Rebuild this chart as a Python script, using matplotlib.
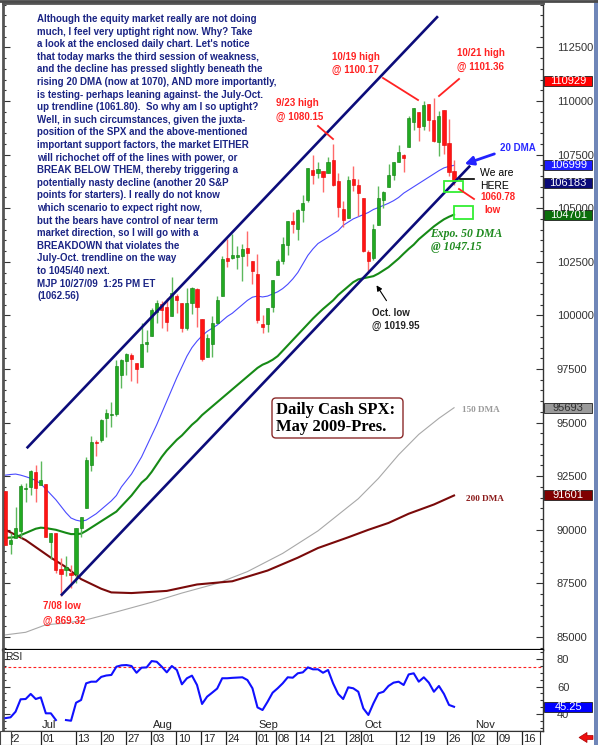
import numpy as np
import pandas as pd
import matplotlib
matplotlib.use("Agg")
import matplotlib.pyplot as plt
from matplotlib.patches import Rectangle, FancyBboxPatch, Polygon
from matplotlib.transforms import blended_transform_factory
from matplotlib.ticker import MultipleLocator, FuncFormatter, FixedLocator

plt.rcParams["font.family"] = ["Liberation Sans", "DejaVu Sans"]

# ---------------- data ----------------
dates = pd.bdate_range("2009-06-22", "2009-10-27", freq="C",
                       holidays=["2009-07-03", "2009-09-07"])

spx_open = [918.13, 893.46, 896.31, 899.45, 918.84, 919.86, 927.15, 920.82, 921.24, 894.27,
            898.60, 881.90, 881.28, 880.03, 879.57, 900.77, 910.15, 930.17, 940.56, 942.07,
            951.97, 953.40, 954.07, 972.16, 978.63, 981.48, 977.66, 976.01, 986.80, 990.22,
            1001.41, 1005.41, 1004.06, 999.83, 1008.89, 1005.77, 994.00, 1005.86, 1012.23, 998.18,
            980.62, 986.88, 996.41, 1009.06, 1026.59, 1026.63, 1027.35, 1027.81, 1031.62, 1025.21,
            1019.52, 996.07, 996.12, 1003.84, 1018.67, 1025.36, 1032.99, 1043.92, 1040.15, 1049.03,
            1053.99, 1067.87, 1066.60, 1067.14, 1066.35, 1072.69, 1062.56, 1049.48, 1045.38, 1063.69,
            1061.02, 1054.91, 1029.71, 1026.87, 1042.02, 1053.65, 1060.03, 1065.28, 1071.63, 1074.96,
            1078.68, 1090.36, 1094.67, 1088.22, 1098.64, 1091.06, 1080.87, 1095.62, 1080.36, 1067.54]
spx_high = [918.13, 898.69, 910.85, 921.42, 922.00, 927.99, 930.01, 931.92, 921.24, 898.72,
            898.60, 886.80, 887.86, 883.57, 901.05, 905.84, 933.95, 943.96, 941.89, 951.62,
            956.53, 959.83, 979.42, 979.79, 982.49, 982.35, 977.76, 996.68, 993.18, 1003.61,
            1007.12, 1006.64, 1008.00, 1018.00, 1010.12, 1005.77, 1012.78, 1013.14, 1012.60, 998.18,
            991.20, 999.61, 1008.92, 1027.59, 1035.82, 1037.75, 1032.47, 1033.33, 1039.47, 1025.21,
            1028.45, 1000.34, 1003.43, 1016.48, 1026.07, 1036.34, 1044.14, 1048.18, 1049.74, 1056.04,
            1068.76, 1074.77, 1071.52, 1067.28, 1073.81, 1080.15, 1066.29, 1053.47, 1065.13, 1069.62,
            1063.40, 1054.91, 1030.60, 1042.58, 1060.55, 1058.02, 1070.67, 1071.51, 1079.46, 1075.30,
            1093.17, 1096.56, 1094.67, 1100.17, 1098.64, 1101.36, 1095.21, 1095.83, 1091.75, 1072.48]
spx_low = [893.04, 888.86, 896.31, 896.27, 913.03, 916.18, 912.86, 920.82, 896.42, 886.36,
           879.93, 869.32, 878.45, 872.81, 875.32, 896.50, 910.15, 927.45, 934.65, 940.99,
           943.22, 947.75, 953.27, 965.95, 972.29, 969.35, 968.65, 976.01, 982.85, 990.22,
           996.68, 994.31, 992.49, 999.83, 1000.99, 992.40, 993.36, 1000.82, 994.60, 978.51,
           980.62, 980.62, 996.39, 1009.06, 1022.48, 1026.21, 1021.57, 1016.20, 1023.13, 1014.62,
           996.28, 991.97, 992.25, 1001.65, 1018.67, 1023.97, 1028.04, 1038.40, 1035.00, 1043.42,
           1052.87, 1061.20, 1064.27, 1057.46, 1066.35, 1060.39, 1045.85, 1041.17, 1045.38, 1057.83,
           1046.47, 1029.45, 1019.95, 1025.92, 1042.02, 1050.10, 1060.03, 1063.00, 1071.63, 1066.71,
           1078.68, 1086.41, 1081.53, 1086.48, 1086.16, 1080.77, 1074.31, 1075.49, 1065.23, 1060.78]
spx_close = [893.04, 895.10, 900.94, 920.26, 918.90, 927.23, 919.32, 923.33, 896.42, 898.72,
             881.03, 879.56, 882.68, 879.13, 901.05, 905.84, 932.68, 940.74, 940.38, 951.13,
             954.58, 954.07, 976.29, 979.26, 982.18, 979.62, 975.15, 986.75, 987.48, 1002.63,
             1005.65, 1002.72, 997.08, 1010.48, 1007.10, 994.35, 1005.81, 1012.73, 1004.09, 979.73,
             989.67, 996.46, 1007.37, 1026.13, 1025.57, 1028.00, 1028.12, 1030.98, 1028.93, 1020.62,
             998.04, 994.75, 1003.24, 1016.40, 1025.39, 1033.37, 1044.14, 1042.73, 1049.34, 1052.63,
             1068.76, 1065.49, 1068.30, 1064.66, 1071.66, 1060.87, 1050.78, 1044.38, 1062.98, 1060.61,
             1057.08, 1029.85, 1025.21, 1040.46, 1054.72, 1057.58, 1065.48, 1071.49, 1076.19, 1073.19,
             1092.02, 1096.56, 1087.68, 1097.91, 1091.06, 1081.40, 1092.91, 1079.60, 1066.95, 1062.56]

dma20 = [925.5, 925.8, 926.0, 925.5, 924.8, 924.0, 923.0, 921.5, 919.0, 916.5,
         914.0, 911.0, 908.0, 905.5, 904.5, 904.0, 904.5, 906.0, 907.5, 909.5,
         911.5, 913.5, 916.0, 920.0, 923.0, 926.0, 930.0, 934.0, 939.0, 944.0,
         949.0, 954.5, 960.0, 965.5, 971.0, 976.0, 981.0, 985.0, 988.0, 990.5,
         992.5, 994.0, 995.5, 997.5, 999.5, 1001.0, 1003.0, 1005.0, 1007.0, 1008.5,
         1009.0, 1008.6, 1009.0, 1010.0, 1011.0, 1012.5, 1014.5, 1017.0, 1020.0, 1024.0,
         1028.0, 1031.0, 1033.5, 1035.0, 1036.5, 1038.0, 1039.5, 1042.0, 1043.5, 1045.0,
         1046.0, 1047.0, 1048.0, 1049.4, 1050.3, 1051.3, 1052.3, 1053.5, 1055.0, 1057.0,
         1058.5, 1060.0, 1061.5, 1063.0, 1064.5, 1066.0, 1067.5, 1068.8, 1069.5, 1069.99]

ema50 = [896.2, 896.4, 896.6, 897.5, 898.5, 899.5, 900.5, 901.0, 900.8, 900.4,
         900.0, 899.3, 898.6, 898.0, 898.0, 898.2, 899.5, 901.0, 902.5, 904.0,
         905.5, 907.0, 908.5, 911.0, 913.5, 916.0, 919.0, 922.0, 924.0, 927.0,
         930.5, 934.0, 937.0, 939.5, 942.0, 944.0, 946.5, 949.0, 951.0, 953.5,
         955.5, 957.5, 959.5, 961.5, 963.5, 965.5, 967.5, 969.5, 971.5, 973.5,
         975.5, 977.0, 978.0, 979.3, 981.0, 983.5, 986.0, 988.5, 991.0, 993.5,
         996.0, 998.5, 1000.8, 1003.0, 1005.0, 1007.0, 1009.5, 1011.5, 1013.5, 1015.5,
         1016.8, 1017.3, 1017.8, 1018.3, 1019.5, 1021.0, 1022.5, 1024.5, 1026.5, 1028.8,
         1031.0, 1033.0, 1035.5, 1037.5, 1039.5, 1041.5, 1043.2, 1044.8, 1046.0, 1047.01]

dma150_day = [0, 4, 8, 12, 16, 22, 29, 35, 42, 48, 55, 58, 62, 66, 70, 74, 78, 82, 86, 89]
dma150 = [851.0, 852.2, 855.7, 856.5, 858.0, 861.7, 866.2, 870.5, 875.0, 880.5,
          889.0, 893.5, 899.5, 907.0, 914.5, 924.0, 935.0, 944.5, 952.0, 956.93]

dma200_day = [0, 4, 9, 12, 15, 19, 21, 25, 32, 38, 45, 52, 58, 62, 68, 72, 76, 80, 85, 89]
dma200 = [900.0, 895.2, 887.0, 882.6, 877.0, 872.5, 870.8, 870.5, 871.5, 874.5,
          876.0, 881.0, 887.0, 891.5, 896.5, 900.0, 903.2, 907.5, 911.8, 916.01]

rsi = [37.0, 37.6, 41.7, 50.7, 50.9, 54.6, 50.9, 52.1, 40.5, 40.5,
       35.6, np.nan, 35.6, 35.1, 48.2, 50.2, 62.3, 63.5, 63.5, 67.0,
       68.0, 68.4, 74.4, 75.4, 75.6, 74.9, 70.0, 73.7, 73.9, 78.5,
       78.0, 74.4, 70.3, 74.9, 72.0, 61.6, 66.0, 67.9, 61.1, 47.3,
       52.6, 55.5, 58.5, 66.0, 66.0, 66.3, 66.5, 66.7, 64.7, 58.7,
       44.8, 42.9, 48.9, 55.5, 58.7, 62.3, 66.7, 66.4, 69.6, 70.3,
       73.9, 72.5, 72.5, 70.0, 72.0, 62.3, 54.6, 50.9, 59.4, 58.7,
       56.2, 44.1, 39.3, 47.7, 55.0, 56.2, 60.4, 62.8, 63.5, 61.1,
       68.8, 69.6, 63.5, 66.7, 62.8, 56.2, 60.4, 54.6, 46.6, 45.25]
rsi_marker_level = 74

# July-October up trendline through the 7/08 and 10/02 lows, plus parallel top
trend_anchor_day = [11, 72]
trend_anchor_low = [869.32, 1019.95]
channel_width = 85.5

# right-edge value flags: (value, text, face, text colour)
price_flags = [(1109.29, "110929", "#ff0000", "white"),
               (1069.99, "106999", "#1e1eff", "white"),
               (1061.83, "106183", "#0a0a78", "white"),
               (1047.01, "104701", "#0b6e0b", "white"),
               (956.93, "95693", "#9a9a9a", "#303030"),
               (916.01, "91601", "#800000", "white")]
rsi_flag = (45.25, "45.25", "#0000ff", "white")

week_labels = ["22", "01", "13", "20", "27", "03", "10", "17", "24", "01", "08",
               "14", "21", "28", "01", "12", "19", "26", "02", "09", "16"]
week_label_day = [0, 7, 14, 19, 24, 29, 34, 39, 44, 50, 54, 58, 63, 68, 71, 78, 83,
                  88, 93, 98, 103]
month_labels = ["Jul", "Aug", "Sep", "Oct", "Nov"]
month_label_day = [7, 29, 50, 71, 93]

commentary = [
    "Although the equity market really are not doing",
    "much, I feel very uptight right now. Why? Take",
    "a look at the enclosed daily chart. Let's notice",
    "that today marks the third session of weakness,",
    "and the decline has pressed slightly beneath the",
    "rising 20 DMA (now at 1070), AND more importantly,",
    "is testing- perhaps leaning against- the July-Oct.",
    "up trendline (1061.80).  So why am I so uptight?",
    "Well, in such circumstances, given the juxta-",
    "position of the SPX and the above-mentioned",
    "important support factors, the market EITHER",
    "will richochet off of the lines with power, or",
    "BREAK BELOW THEM, thereby triggering a",
    "potentially nasty decline (another 20 S&P",
    "points for starters). I really do not know",
    "which scenario to expect right now,",
    "but the bears have control of near term",
    "market direction, so I will go with a",
    "BREAKDOWN that violates the",
    "July-Oct. trendline on the way",
    "to 1045/40 next.",
    "MJP 10/27/09  1:25 PM ET",
    "(1062.56)",
]

# ---------------- figure ----------------
W, H = 598, 745
fig = plt.figure(figsize=(W / 100, H / 100), dpi=100)
fig.patch.set_facecolor("white")


def frac(x0, y0, x1, y1):
    return [x0 / W, 1 - y1 / H, (x1 - x0) / W, (y1 - y0) / H]


XL = (-0.496, 106.65)
ax = fig.add_axes(frac(3, 3, 543, 650))
ax_rsi = fig.add_axes(frac(3, 650, 543, 731), sharex=ax)
ax_d = fig.add_axes(frac(3, 731, 540, 745), sharex=ax)
ov = fig.add_axes([0, 0, 1, 1])
ov.set_xlim(0, W)
ov.set_ylim(H, 0)
ov.axis("off")
ov.patch.set_visible(False)

x = np.arange(len(dates))
o = np.array(spx_open)
hi = np.array(spx_high)
lo = np.array(spx_low)
c = np.array(spx_close)
up = c >= o

# moving averages
ax.plot(dma150_day, dma150, color="#a8a8a8", lw=0.8, zorder=2)
ax.plot(dma200_day, dma200, color="#7a0a0a", lw=1.5, zorder=2)
ax.plot(x, ema50, color="#168a16", lw=1.5, zorder=2)
ax.plot(x, dma20, color="#4a4aff", lw=0.8, zorder=2)

# candles
ax.vlines(x[up], lo[up], hi[up], color="#5cb85c", lw=1.0, zorder=3)
ax.vlines(x[~up], lo[~up], hi[~up], color="#ff6a6a", lw=1.0, zorder=3)
body_lo = np.minimum(o, c)
body_h = np.maximum(np.abs(c - o), 0.7)
ax.bar(x[up], body_h[up], bottom=body_lo[up], width=0.62, color="#22aa22",
       edgecolor="#0b7a0b", linewidth=0.4, zorder=4)
ax.bar(x[~up], body_h[~up], bottom=body_lo[~up], width=0.62, color="#ff1414",
       edgecolor="#e00000", linewidth=0.4, zorder=4)

# trend channel
slope = (trend_anchor_low[1] - trend_anchor_low[0]) / (trend_anchor_day[1] - trend_anchor_day[0])
lower_x = np.array([trend_anchor_day[0], 92.2])
upper_x = np.array([4.2, 85.8])
ax.plot(lower_x, trend_anchor_low[0] + slope * (lower_x - trend_anchor_day[0]),
        color="#0c0c7a", lw=1.9, zorder=5, solid_capstyle="butt")
ax.plot(upper_x, trend_anchor_low[0] + channel_width + slope * (upper_x - trend_anchor_day[0]),
        color="#0c0c7a", lw=1.9, zorder=5, solid_capstyle="butt")

ax.set_xlim(*XL)
ax.set_ylim(843.94, 1145.7)
ax.yaxis.set_major_locator(MultipleLocator(25))
ax.yaxis.set_minor_locator(MultipleLocator(5))
ax.yaxis.set_major_formatter(FuncFormatter(lambda v, p: f"{v * 100:.0f}"))
ax.tick_params(axis="y", which="both", direction="in", left=True, right=True,
               labelleft=False, labelright=True, color="#333333", width=0.8)
ax.tick_params(axis="y", which="major", length=5, pad=10, labelsize=8, labelcolor="#333333")
ax.tick_params(axis="y", which="minor", length=2.5)
ax.tick_params(axis="x", which="both", bottom=False, labelbottom=False)
ax.spines["left"].set(color="#555555", lw=2)
ax.spines["top"].set(color="#555555", lw=2)
ax.spines["right"].set(color="#333333", lw=1)
ax.spines["bottom"].set(color="black", lw=1.6)

# RSI panel
ax_rsi.plot(x, rsi, color="#1010ff", lw=1.5, zorder=3)
ax_rsi.axhline(rsi_marker_level, color="#ff2020", lw=0.8, dashes=(2.5, 2))
ax_rsi.set_ylim(27.64, 86.55)
ax_rsi.yaxis.set_major_locator(FixedLocator([40, 60, 80]))
ax_rsi.yaxis.set_minor_locator(MultipleLocator(5))
ax_rsi.tick_params(axis="y", which="both", direction="in", left=True, right=True,
                   labelleft=False, labelright=True, color="#333333", width=0.8)
ax_rsi.tick_params(axis="y", which="major", length=5, pad=10, labelsize=8, labelcolor="#333333")
ax_rsi.tick_params(axis="y", which="minor", length=2.5)
ax_rsi.set_xticks(week_label_day)
ax_rsi.tick_params(axis="x", direction="in", length=3, labelbottom=False, color="#333333")
ax_rsi.spines["top"].set_visible(False)
for s in ("left", "right", "bottom"):
    ax_rsi.spines[s].set(color="#333333", lw=1)
ax_rsi.spines["left"].set(color="#555555", lw=2)
ax_rsi.text(0.004, 0.97, "RSI", transform=ax_rsi.transAxes, ha="left", va="top",
            fontsize=7.5, color="#222222")
mtr = blended_transform_factory(ax_rsi.transData, ax_rsi.transAxes)
for lab, d in zip(month_labels, month_label_day):
    ax_rsi.text(d + 0.2, 0.07, lab, transform=mtr, ha="left", va="center",
                fontsize=8, color="#222222")

# date row
ax_d.set_ylim(0, 1)
ax_d.vlines(week_label_day, 0, 1, color="#222222", lw=0.9)
for lab, d in zip(week_labels, week_label_day):
    ax_d.text(d + 0.35, 0.45, lab, ha="left", va="center", fontsize=8, color="#222222",
              clip_on=True)
ax_d.set_xlim(*XL)
ax_d.set_xticks([])
ax_d.set_yticks([])
for s in ax_d.spines.values():
    s.set(color="#333333", lw=0.8)


# value flags along the right edge
def flag(axis, value, text, face, tcol):
    tr = blended_transform_factory(axis.transAxes, axis.transData)
    y0, y1 = axis.get_ylim()
    h = 10 * (y1 - y0) / axis.bbox.height
    axis.add_patch(Rectangle((1.002, value - h / 2), 0.0889, h, transform=tr, clip_on=False,
                             facecolor=face, edgecolor="#202020", lw=0.6, zorder=6))
    axis.text(1.0465, value, text, transform=tr, ha="center", va="center", fontsize=8,
              color=tcol, clip_on=False, zorder=7)


for v, t, f, tc in price_flags:
    flag(ax, v, t, f, tc)
flag(ax_rsi, *rsi_flag)

# ---------------- annotations ----------------
for i, line in enumerate(commentary):
    ov.text(37, 19 + 12.6 * i, line, ha="left", va="center", fontsize=7, fontweight="bold",
            color="#1b2585")

red = "#ff2222"
red_notes = [("9/23 high", 276, 103), ("@ 1080.15", 276, 117),
             ("10/19 high", 332, 57), ("@ 1100.17", 332, 70),
             ("10/21 high", 457, 53), ("@ 1101.36", 457, 67),
             ("1060.78", 480, 197), ("low", 484, 210),
             ("7/08 low", 43, 606), ("@ 869.32", 43, 621)]
for t, tx, ty in red_notes:
    ov.text(tx, ty, t, ha="left", va="center", fontsize=7, fontweight="bold", color=red)
for (x0, y0, x1, y1) in [(318, 126, 333, 139), (383, 78, 418, 100),
                         (459, 79, 439, 96), (459, 189, 474, 199)]:
    ov.plot([x0, x1], [y0, y1], color=red, lw=1.3)

ov.text(480, 173, "We are", ha="left", va="center", fontsize=7.5, color="black")
ov.text(480, 186, "HERE", ha="left", va="center", fontsize=7.5, color="black")
ov.plot([460, 474], [179, 179], color="black", lw=1.2)

ov.text(372, 313, "Oct. low", ha="left", va="center", fontsize=7, fontweight="bold", color="#222222")
ov.text(372, 326, "@ 1019.95", ha="left", va="center", fontsize=7, fontweight="bold", color="#222222")
ov.annotate("", xy=(375, 283), xytext=(388, 303),
            arrowprops=dict(arrowstyle="-|>", color="black", lw=0.8, mutation_scale=8))

ov.text(500, 148, "20 DMA", ha="left", va="center", fontsize=7, fontweight="bold", color="#2a2aff")
ov.annotate("", xy=(462, 165), xytext=(497, 153),
            arrowprops=dict(arrowstyle="-|>", color="#2222ff", lw=2, mutation_scale=13))

serif = ["Liberation Serif", "DejaVu Serif"]
ov.text(430, 234, "Expo. 50 DMA", ha="left", va="center", fontsize=8.4, fontweight="bold",
        fontstyle="italic", family=serif, color="#1e8a1e")
ov.text(431, 247, "@ 1047.15", ha="left", va="center", fontsize=8.4, fontweight="bold",
        fontstyle="italic", family=serif, color="#1e8a1e")
ov.text(462, 410, "150 DMA", ha="left", va="center", fontsize=6.6, fontweight="bold",
        family=serif, color="#9a9a9a")
ov.text(466, 499, "200 DMA", ha="left", va="center", fontsize=6.6, fontweight="bold",
        family=serif, color="#8b1a1a")

for (bx, by, bw, bh) in [(444, 181, 19, 11), (454, 206, 19, 13)]:
    ov.add_patch(Rectangle((bx, by), bw, bh, facecolor="none", edgecolor="#33ee33", lw=1.3))

ov.add_patch(FancyBboxPatch((272, 398), 131, 40, boxstyle="round,pad=0,rounding_size=4",
                            facecolor="white", edgecolor="#8b2a2a", lw=1.0, zorder=6))
ov.text(276, 410, "Daily Cash SPX:", ha="left", va="center", fontsize=12, fontweight="bold",
        family=serif, color="black", zorder=7)
ov.text(276, 427, "May 2009-Pres.", ha="left", va="center", fontsize=12, fontweight="bold",
        family=serif, color="black", zorder=7)

# window furniture
ov.plot([0, W], [1, 1], color="#4a4a4a", lw=2)
ov.add_patch(Rectangle((594, 0), 4, H, facecolor="#6f86b8", edgecolor="none"))
ov.add_patch(Rectangle((0, 731), 11, 14, facecolor="white", edgecolor="#444444", lw=0.8, zorder=5))
ov.add_patch(Polygon([(579, 737.5), (587, 732.5), (587, 735.5), (593, 735.5),
                      (593, 739.5), (587, 739.5), (587, 742.5)], closed=True,
                     facecolor="#ee1010", edgecolor="#aa0000", lw=0.5))

fig.savefig("out.png", dpi=100)
